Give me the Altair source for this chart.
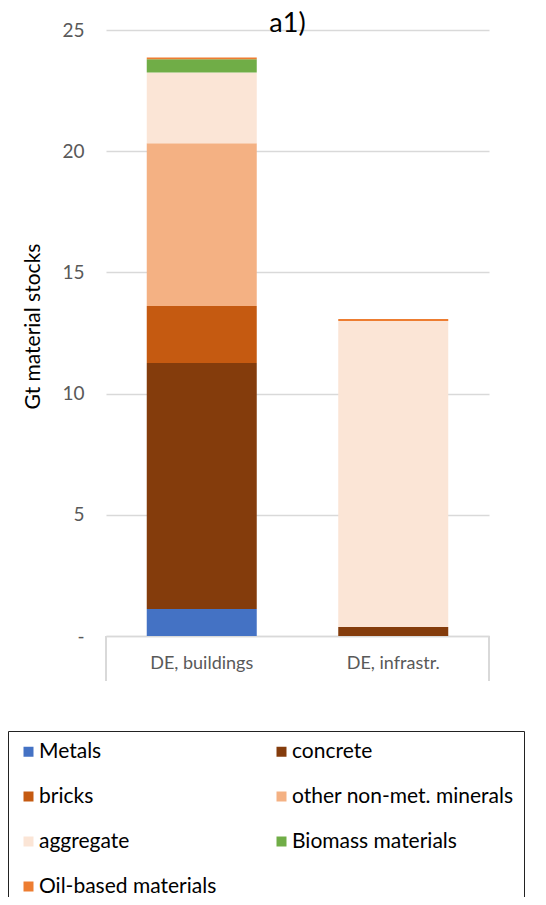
import altair as alt
import pandas as pd

categories = ["DE, buildings", "DE, infrastr."]
materials = ["Metals", "concrete", "bricks", "other non-met. minerals",
             "aggregate", "Biomass materials", "Oil-based materials"]
colors = ["#4472C4", "#843C0C", "#C55A11", "#F4B183", "#FBE5D6", "#70AD47", "#ED7D31"]
buildings = [1.11, 10.15, 2.35, 6.72, 2.92, 0.54, 0.08]
infrastructure = [0.0, 0.37, 0.0, 0.0, 12.63, 0.0, 0.08]
y_ticks = [0, 5, 10, 15, 20, 25]

# legend is laid out column by column; reorder so it reads row by row like the original
legend_order = [materials[i] for i in (0, 2, 4, 6, 1, 3, 5)]
legend_colors = [colors[i] for i in (0, 2, 4, 6, 1, 3, 5)]

rows = []
for i, m in enumerate(materials):
    rows.append({"category": categories[0], "material": m, "value": buildings[i], "idx": i})
    rows.append({"category": categories[1], "material": m, "value": infrastructure[i], "idx": i})
df = pd.DataFrame(rows)

FONT = "Lato"
W, H = 383, 606

bars = alt.Chart(df).mark_bar(size=110).encode(
    x=alt.X("category:N", sort=categories, title=None,
            axis=alt.Axis(labelAngle=0, labelFontSize=18, labelColor="#595959",
                          labelPadding=18, ticks=False, domainColor="#D9D9D9",
                          domainWidth=1.5, labelFont=FONT)),
    y=alt.Y("value:Q", stack="zero", title="Gt material stocks",
            scale=alt.Scale(domain=[0, 25], nice=False),
            axis=alt.Axis(values=y_ticks, labelExpr="datum.value == 0 ? '-' : datum.label",
                          domain=False, ticks=False, gridColor="#D9D9D9", gridWidth=1.5,
                          labelFontSize=19, labelColor="#595959", labelPadding=22,
                          labelFont=FONT, titleFont=FONT, titleFontSize=21,
                          titleFontWeight="normal", titleColor="#000000",
                          titleX=-73, titleY=296, titleAngle=-90,
                          titleAlign="center", titleBaseline="middle")),
    color=alt.Color("material:N", sort=legend_order,
                    scale=alt.Scale(domain=legend_order, range=legend_colors),
                    legend=alt.Legend(title=None, orient="none", legendX=-98, legendY=701,
                                      columns=2, columnPadding=54, rowPadding=23,
                                      labelFontSize=21, labelFont=FONT, labelColor="#000000",
                                      symbolType="square", symbolSize=100,
                                      symbolStrokeWidth=0, labelOffset=0, padding=10,
                                      strokeColor="#222222", labelLimit=400)),
    order=alt.Order("idx:Q", sort="ascending"),
)

left_rule = alt.Chart(df).mark_rule(color="#D9D9D9", strokeWidth=1.5).encode(
    x=alt.value(0), y=alt.value(H), y2=alt.value(H + 45))
right_rule = alt.Chart(df).mark_rule(color="#D9D9D9", strokeWidth=1.5).encode(
    x=alt.value(W), y=alt.value(H), y2=alt.value(H + 45))

chart = alt.layer(bars, left_rule, right_rule).properties(
    width=W, height=H,
    title=alt.TitleParams("a1)", fontSize=27, font=FONT, fontWeight="normal",
                          color="#000000", anchor="middle", offset=-17, dx=-10),
    autosize=alt.AutoSizeParams(type="none"),
    padding={"left": 98, "top": 22, "right": 49, "bottom": 261},
).configure_view(stroke=None)

chart.save("out.html", embed_options={"renderer": "svg", "actions": False})
